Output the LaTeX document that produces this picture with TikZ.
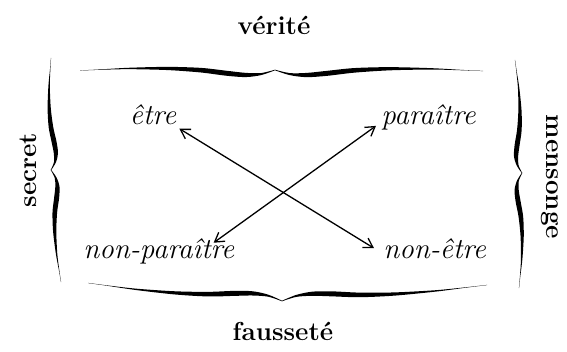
\documentclass[tikz,border=0pt]{standalone}
\usetikzlibrary{arrows.meta,calc}
\tikzset{
  lbl/.style={font=\fontsize{14.5}{16}\selectfont\itshape, inner sep=1.5pt},
  ttl/.style={font=\fontsize{13}{15}\selectfont\bfseries, inner sep=0pt},
  rel/.style={{Straight Barb[length=4.5pt,width=5.5pt]}-{Straight Barb[length=4.5pt,width=5.5pt]}, line width=0.65pt},
  arm/.pic={\fill plot[smooth] coordinates {(0,0.1) (0.1,1.0) (0.25,2.6) (0.45,3.4) (0.62,2.3) (0.75,-0.6) (0.85,-2.8) (0.93,-3.0) (1,0.3)}
      -- plot[smooth] coordinates {(1,-0.3) (0.93,-5.0) (0.85,-7.0) (0.75,-5.6) (0.62,-2.3) (0.45,0.2) (0.25,1.2) (0.1,0.6) (0,-0.1)} -- cycle;}
}
\begin{document}
\begin{tikzpicture}[x=0.5pt,y=-0.5pt]
\useasboundingbox (0,0) rectangle (567,352);
% braces
\begin{scope}[shift={(80,70.5)}, x={(97.5pt,0.25pt)}, y={(0pt,0.5pt)}] \pic {arm}; \end{scope}
\begin{scope}[shift={(483,71)}, x={(-104pt,0.5pt)}, y={(0pt,0.5pt)}] \pic {arm}; \end{scope}
\begin{scope}[shift={(88,283)}, x={(97pt,-9pt)}, y={(0pt,-0.5pt)}] \pic {arm}; \end{scope}
\begin{scope}[shift={(487,285)}, x={(-102.5pt,-8pt)}, y={(0pt,-0.5pt)}] \pic {arm}; \end{scope}
\begin{scope}[shift={(51,58)}, x={(0pt,-56pt)}, y={(-0.5pt,0pt)}] \pic {arm}; \end{scope}
\begin{scope}[shift={(61,282)}, x={(-5pt,56pt)}, y={(-0.5pt,0pt)}] \pic {arm}; \end{scope}
\begin{scope}[shift={(515,60)}, x={(3.5pt,-56.5pt)}, y={(0.5pt,0pt)}] \pic {arm}; \end{scope}
\begin{scope}[shift={(519,288)}, x={(1.5pt,57.5pt)}, y={(0.5pt,0pt)}] \pic {arm}; \end{scope}
% titles
\node[ttl, anchor=base] (verite) at (274,35) {vérité};
\node[ttl, anchor=base] (faussete) at (283,340) {fausseté};
\node[ttl, rotate=90] (secret) at (28,170) {secret};
\node[ttl, rotate=-90] (mensonge) at (550,177) {mensonge};
% terms
\node[lbl, anchor=base] (etre) at (153,125) {être};
\node[lbl, anchor=base west] (paraitre) at (378,125) {paraître};
\node[lbl, anchor=base west] (nonparaitre) at (80,258) {non-paraître};
\node[lbl, anchor=base west] (nonetre) at (380,258) {non-être};
% relations
\draw[rel] (etre.south east) -- ([xshift=-3pt]nonetre.west);
\draw[rel] ($(nonparaitre.north east)+(-24,8)$) -- ([xshift=-1pt,yshift=-4pt]paraitre.west);
\end{tikzpicture}
\end{document}
